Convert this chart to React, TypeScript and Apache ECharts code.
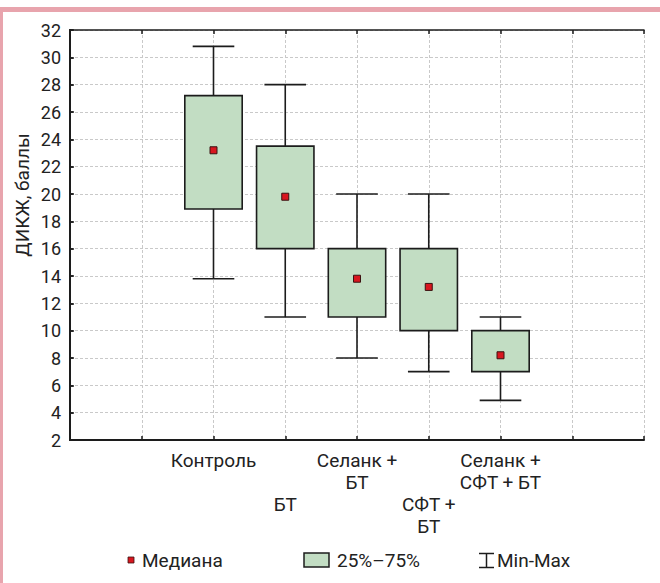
import React, { useEffect, useRef } from "react";
import * as echarts from "echarts";

// Data
const categories = ["Контроль", "БТ", "Селанк +\nБТ", "СФТ +\nБТ", "Селанк +\nСФТ + БТ"];
const positions = [2, 3, 4, 5, 6];
const minValues = [13.8, 11, 8, 7, 4.9];
const q1Values = [18.9, 16, 11, 10, 7];
const medianValues = [23.2, 19.8, 13.8, 13.2, 8.2];
const q3Values = [27.2, 23.5, 16, 16, 10];
const maxValues = [30.8, 28, 20, 20, 11];
const yTicks = { min: 2, max: 32, interval: 2 };
const yAxisName = "ДИКЖ, баллы";
const legendLabels = ["Медиана", "25%–75%", "Min-Max"];

const FONT = "Roboto, 'Liberation Sans', sans-serif";
const TEXT = "#222222";
const INK = "#1c1c1c";
const GREEN = "#c2ddc3";
const RED = "#d8161f";
const PINK = "#e8a4ad";

export default function App() {
  const ref = useRef<HTMLDivElement>(null);

  useEffect(() => {
    document.body.style.margin = "0";
    if (!ref.current) return;
    const chart = echarts.init(ref.current, undefined, { renderer: "svg" });

    const data = positions.map((p, i) => [
      p,
      minValues[i],
      q1Values[i],
      medianValues[i],
      q3Values[i],
      maxValues[i],
    ]);

    const labelFor = (v: number) => {
      const idx = positions.indexOf(Math.round(v));
      if (idx < 0) return "";
      const txt = categories[idx];
      return idx % 2 === 1 ? "\n\n" + txt : txt;
    };

    const splitLine = {
      show: true,
      lineStyle: { color: "#c9c9c9", type: [3, 2] as any, width: 1 },
    };

    const option: any = {
      animation: false,
      grid: { left: 70, right: 16, top: 30, bottom: 143, containLabel: false },
      xAxis: [
        {
          type: "value",
          min: 0,
          max: 8,
          interval: 1,
          position: "bottom",
          axisLine: { show: true, lineStyle: { color: INK, width: 2 } },
          axisTick: { show: true, inside: true, length: 4, lineStyle: { color: INK, width: 1.5 } },
          axisLabel: {
            show: true,
            formatter: labelFor,
            color: TEXT,
            fontFamily: FONT,
            fontSize: 19,
            lineHeight: 22,
            margin: 9,
            align: "center",
          },
          splitLine,
        },
        {
          type: "value",
          min: 0,
          max: 8,
          interval: 1,
          position: "top",
          axisLine: { show: true, lineStyle: { color: INK, width: 1.5 } },
          axisTick: { show: true, inside: true, length: 4, lineStyle: { color: INK, width: 1.5 } },
          axisLabel: { show: false },
          splitLine: { show: false },
        },
      ],
      yAxis: [
        {
          type: "value",
          min: yTicks.min,
          max: yTicks.max,
          interval: yTicks.interval,
          position: "left",
          axisLine: { show: true, lineStyle: { color: INK, width: 2 } },
          axisTick: { show: true, inside: true, length: 4, lineStyle: { color: INK, width: 1.5 } },
          axisLabel: {
            color: TEXT,
            fontFamily: FONT,
            fontSize: 18,
            margin: 9,
          },
          splitLine,
        },
        {
          type: "value",
          min: yTicks.min,
          max: yTicks.max,
          interval: yTicks.interval,
          position: "right",
          axisLine: { show: true, lineStyle: { color: INK, width: 2 } },
          axisTick: { show: true, inside: false, length: 3, lineStyle: { color: INK, width: 1.5 } },
          axisLabel: { show: false },
          splitLine: { show: false },
        },
      ],
      series: [
        {
          type: "custom",
          name: "boxes",
          xAxisIndex: 0,
          yAxisIndex: 0,
          data,
          renderItem: (params: any, api: any) => {
            const x = api.value(0);
            const lo = api.coord([x, api.value(1)]);
            const q1 = api.coord([x, api.value(2)]);
            const med = api.coord([x, api.value(3)]);
            const q3 = api.coord([x, api.value(4)]);
            const hi = api.coord([x, api.value(5)]);
            const bw = api.size([0.8, 0])[0];
            const cw = api.size([0.58, 0])[0];
            const ls = { stroke: INK, lineWidth: 1.6 };
            return {
              type: "group",
              children: [
                { type: "line", shape: { x1: lo[0], y1: lo[1], x2: hi[0], y2: hi[1] }, style: ls },
                { type: "line", shape: { x1: lo[0] - cw / 2, y1: lo[1], x2: lo[0] + cw / 2, y2: lo[1] }, style: ls },
                { type: "line", shape: { x1: hi[0] - cw / 2, y1: hi[1], x2: hi[0] + cw / 2, y2: hi[1] }, style: ls },
                {
                  type: "rect",
                  shape: { x: q3[0] - bw / 2, y: q3[1], width: bw, height: q1[1] - q3[1] },
                  style: { fill: GREEN, stroke: INK, lineWidth: 1.6 },
                },
                {
                  type: "rect",
                  shape: { x: med[0] - 3.5, y: med[1] - 3.5, width: 7, height: 7 },
                  style: { fill: RED, stroke: "#3b1212", lineWidth: 1 },
                },
              ],
            };
          },
        },
      ],
      graphic: [
        { type: "rect", left: 0, top: 7, shape: { width: 660, height: 5 }, style: { fill: PINK }, silent: true },
        { type: "rect", left: 0, top: 7, shape: { width: 3, height: 576 }, style: { fill: PINK }, silent: true },
        {
          type: "text",
          x: 22,
          y: 195,
          rotation: Math.PI / 2,
          style: {
            text: yAxisName,
            fill: TEXT,
            font: `19px ${FONT}`,
            align: "center",
            verticalAlign: "middle",
          },
        },
        // legend: median
        {
          type: "rect",
          shape: { x: 128, y: 557, width: 6, height: 6 },
          style: { fill: RED, stroke: "#3b1212", lineWidth: 0.8 },
        },
        {
          type: "text",
          x: 142,
          y: 560,
          style: { text: legendLabels[0], fill: TEXT, font: `19px ${FONT}`, align: "left", verticalAlign: "middle" },
        },
        // legend: box
        {
          type: "rect",
          shape: { x: 304, y: 553, width: 25, height: 14 },
          style: { fill: GREEN, stroke: INK, lineWidth: 1.5 },
        },
        {
          type: "text",
          x: 337,
          y: 560,
          style: { text: legendLabels[1], fill: TEXT, font: `19px ${FONT}`, align: "left", verticalAlign: "middle" },
        },
        // legend: min-max
        { type: "line", shape: { x1: 479, y1: 553.5, x2: 494, y2: 553.5 }, style: { stroke: INK, lineWidth: 1.5 } },
        { type: "line", shape: { x1: 479, y1: 567.5, x2: 494, y2: 567.5 }, style: { stroke: INK, lineWidth: 1.5 } },
        { type: "line", shape: { x1: 486.5, y1: 553.5, x2: 486.5, y2: 567.5 }, style: { stroke: INK, lineWidth: 1.5 } },
        {
          type: "text",
          x: 497,
          y: 560,
          style: { text: legendLabels[2], fill: TEXT, font: `19px ${FONT}`, align: "left", verticalAlign: "middle" },
        },
      ],
    };

    chart.setOption(option);
    return () => chart.dispose();
  }, []);

  return <div ref={ref} style={{ width: 660, height: 583, background: "#ffffff" }} />;
}
